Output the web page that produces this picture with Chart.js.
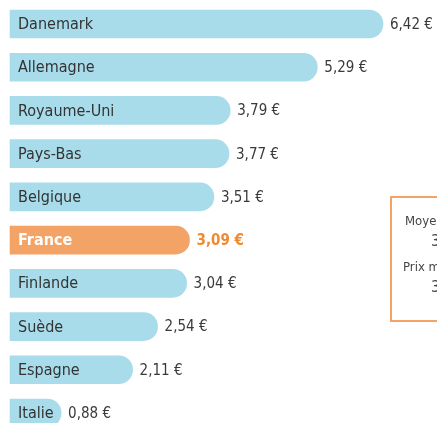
<!DOCTYPE html>
<html>
<head>
<meta charset="utf-8">
<script src="https://cdn.jsdelivr.net/npm/chart.js@4"></script>
<style>
  body { margin: 0; background: #fff; }
  #wrap { width: 437px; height: 423px; }
</style>
</head>
<body>
<div id="wrap"><canvas id="myChart"></canvas></div>
<script>
// prix par pays (en euros)
const pays = ['Danemark', 'Allemagne', 'Royaume-Uni', 'Pays-Bas', 'Belgique', 'France', 'Finlande', 'Suède', 'Espagne', 'Italie'];
const prix = [6.42, 5.29, 3.79, 3.77, 3.51, 3.09, 3.04, 2.54, 2.11, 0.88];
const encadre = ['Moyenne UE', '3,57 €', 'Prix moyen', '3,45 €'];

const bleu = '#a9dcea';
const orange = '#f4a366';
const police = "'DejaVu Sans Condensed', 'DejaVu Sans', sans-serif";

const fmt = v => v.toFixed(2).replace('.', ',') + ' €';

// textes dans et à droite des barres
const etiquettes = {
  id: 'etiquettes',
  afterDatasetsDraw(chart) {
    const ctx = chart.ctx;
    const meta = chart.getDatasetMeta(0);
    ctx.save();
    ctx.textBaseline = 'middle';
    meta.data.forEach((bar, i) => {
      const fr = pays[i] === 'France';
      ctx.font = (fr ? 'bold ' : '') + '16px ' + police;
      ctx.fillStyle = fr ? '#fff' : '#333';
      ctx.textAlign = 'left';
      ctx.fillText(pays[i], chart.chartArea.left + 8, bar.y + 1);
      ctx.font = (fr ? 'bold ' : '') + '15px ' + police;
      ctx.fillStyle = fr ? '#f08a2e' : '#3a3a3a';
      ctx.fillText(fmt(prix[i]), bar.x + 7, bar.y + 1);
    });
    ctx.restore();
  }
};

// encadré orange à droite (coupé)
const boite = {
  id: 'boite',
  afterDraw(chart) {
    const ctx = chart.ctx;
    ctx.save();
    ctx.strokeStyle = '#f4a366';
    ctx.lineWidth = 2;
    ctx.strokeRect(391, 197, 80, 124);
    ctx.fillStyle = '#444';
    ctx.textBaseline = 'middle';
    ctx.textAlign = 'left';
    ctx.font = '13px ' + police;
    ctx.fillText(encadre[0], 405, 222);
    ctx.fillText(encadre[2], 403, 268);
    ctx.font = '16px ' + police;
    ctx.fillText(encadre[1], 431, 242);
    ctx.fillText(encadre[3], 431, 288);
    ctx.restore();
  }
};

const ctx = document.getElementById('myChart').getContext('2d');

const myChart = new Chart(ctx, {
  type: 'bar',
  data: {
    labels: pays,
    datasets: [{
      data: prix,
      backgroundColor: pays.map(p => p === 'France' ? orange : bleu),
      borderWidth: 0,
      borderRadius: 14,
      borderSkipped: 'start',
      barThickness: 28,
      clip: false
    }]
  },
  options: {
    indexAxis: 'y',
    responsive: true,
    maintainAspectRatio: false,
    animation: false,
    layout: { padding: { left: 10, right: 0, top: 24, bottom: 10 } },
    plugins: {
      legend: { display: false },
      tooltip: { enabled: false }
    },
    scales: {
      x: { display: false, min: 0, max: 7.35 },
      y: { display: false, offset: false }
    }
  },
  plugins: [etiquettes, boite]
});
</script>
</body>
</html>
